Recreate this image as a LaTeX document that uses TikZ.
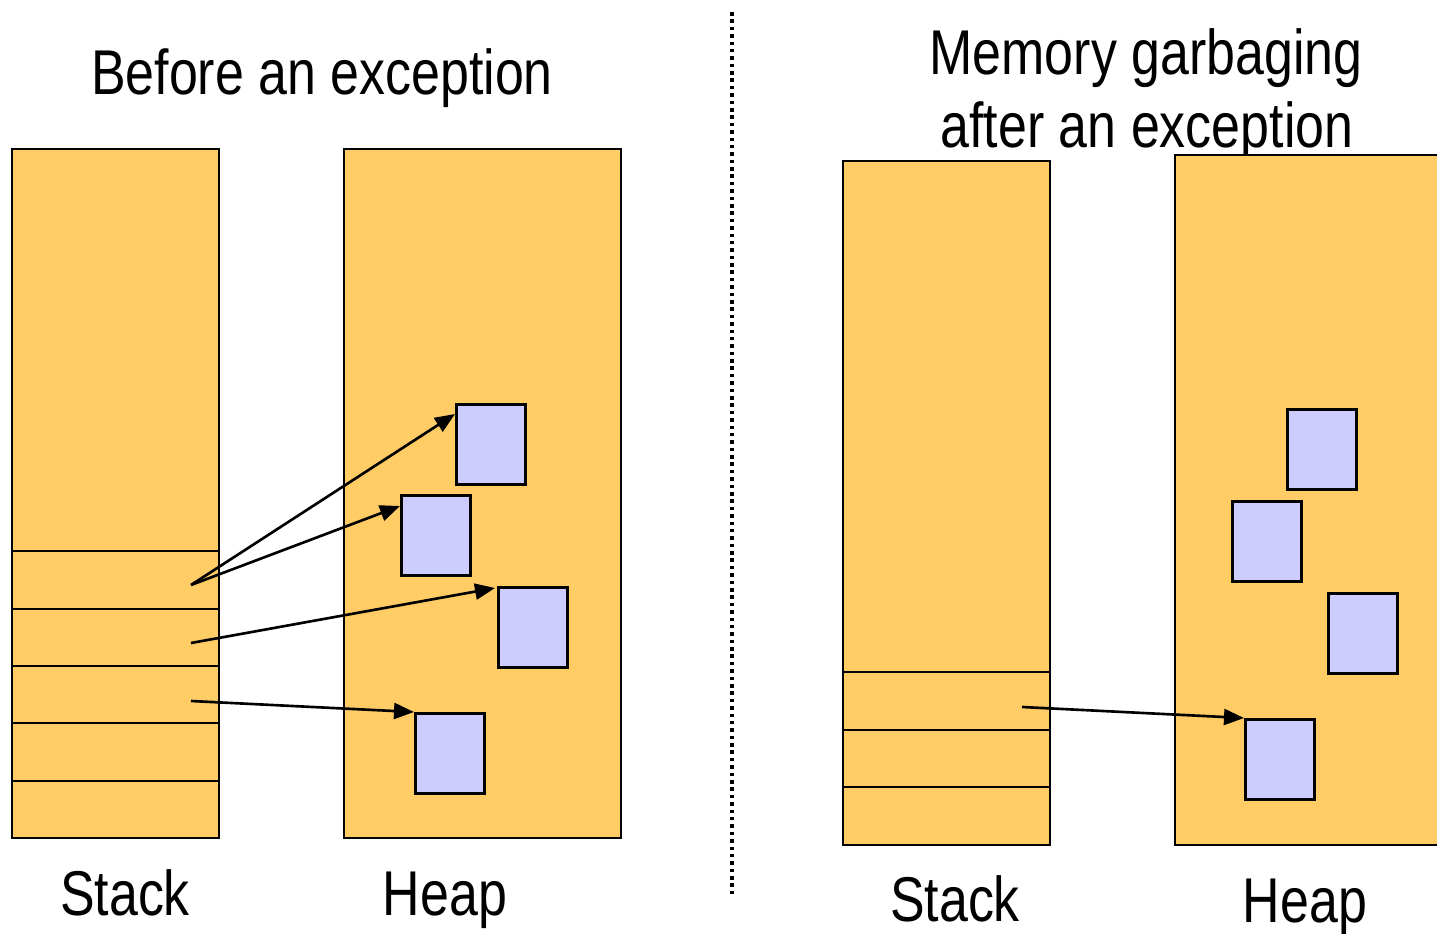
\documentclass[tikz,border=0pt]{standalone}
\usepackage{fontspec}
\setmainfont{Liberation Sans}[FakeStretch=0.82]
\usetikzlibrary{arrows.meta}

\definecolor{memfill}{RGB}{255,204,102}
\definecolor{objfill}{RGB}{204,204,255}

\tikzset{
    mem/.style={draw=black, line width=0.8pt, fill=memfill},
    obj/.style={draw=black, line width=0.8pt, fill=objfill, inner sep=0pt,
        minimum width=0.69cm, minimum height=0.8cm, anchor=north west},
    ref/.style={-{Triangle[length=0.2cm,width=0.16cm]}, line width=0.75pt},
    lbl/.style={font=\fontsize{18}{22}\selectfont, anchor=base}
}

\begin{document}
\begin{tikzpicture}[x=0.01cm, y=-0.01cm]
    \useasboundingbox (0,0) rectangle (1437,934);
    \clip (0,0) rectangle (1437,934);

    % before an exception
    \node[lbl] (titleA) at (322,95) {Before an exception};
    \draw[mem] (12,149) rectangle (219,838);
    \foreach \y in {551,609,666,723,781}
        \draw[line width=0.8pt] (12,\y) -- (219,\y);
    \draw[mem] (344,149) rectangle (621,838);
    \node[obj] (objA) at (455,403) {};
    \node[obj] (objB) at (400,494) {};
    \node[obj] (objC) at (497,586) {};
    \node[obj] (objD) at (414,712) {};
    \coordinate (s1) at (191,585);
    \coordinate (s2) at (191,643);
    \coordinate (s3) at (191,701);
    \draw[ref] (s1) -- ([yshift=-0.11cm]objA.north west);
    \draw[ref] (s1) -- ([yshift=-0.12cm]objB.north west);
    \draw[ref] (s2) -- ([xshift=-0.02cm,yshift=-0.02cm]objC.north west);
    \draw[ref] (s3) -- (objD.north west);
    \node[lbl] (stackA) at (125,915) {Stack};
    \node[lbl] (heapA) at (445,915) {Heap};

    % separator
    \draw[line width=1pt, dash pattern=on 1pt off 1.1pt] (732,12) -- (732,897);

    % after an exception
    \node[lbl] (titleB1) at (1146,75) {Memory garbaging};
    \node[lbl] (titleB2) at (1147,148) {after an exception};
    \draw[mem] (843,161) rectangle (1050,845);
    \foreach \y in {672,730,787}
        \draw[line width=0.8pt] (843,\y) -- (1050,\y);
    \draw[mem] (1175,155) rectangle (1450,845);
    \node[obj] (objE) at (1286,408) {};
    \node[obj] (objF) at (1231,500) {};
    \node[obj] (objG) at (1327,592) {};
    \node[obj] (objH) at (1244,718) {};
    \coordinate (s4) at (1022,707);
    \draw[ref] (s4) -- (objH.north west);
    \node[lbl] (stackB) at (955,921) {Stack};
    \node[lbl] (heapB) at (1305,922) {Heap};
\end{tikzpicture}
\end{document}
